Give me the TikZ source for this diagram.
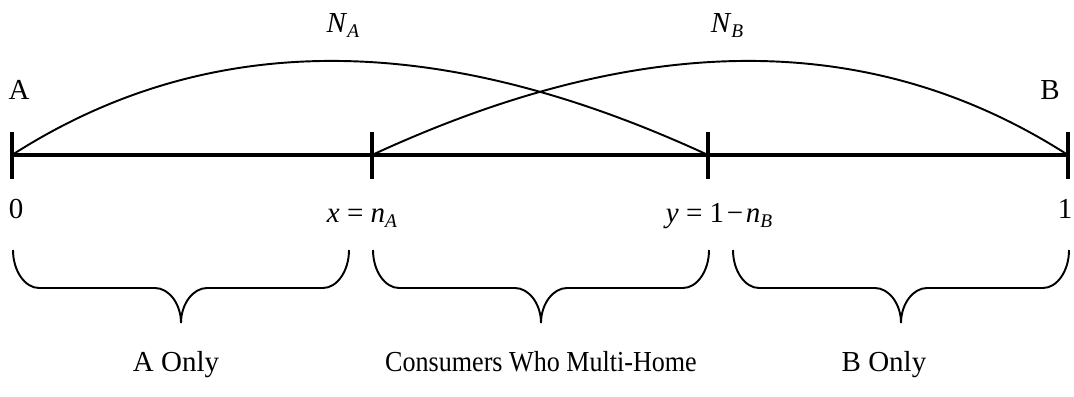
\documentclass[tikz,border=0pt]{standalone}
\usepackage{fontspec}
\setmainfont{Liberation Serif}
\usepackage{tikz}
\usetikzlibrary{positioning}
\tikzset{
  axisline/.style={line width=2.3pt},
  tickmark/.style={line width=2.6pt},
  share/.style={line width=1.1pt},
  bracket/.style={line width=1.1pt},
  lbl/.style={anchor=base, inner sep=0pt},
}
\newcommand{\sub}[1]{\raisebox{-3.2pt}{\fontsize{11}{11}\selectfont\textit{#1}}}

\begin{document}
\begin{tikzpicture}[x=0.02cm, y=-0.02cm, font=\fontsize{16.5}{19}\selectfont]
    \useasboundingbox (0,0) rectangle (1074,396);
    \coordinate (p0) at (12,155);
    \coordinate (p1) at (372,155);
    \coordinate (p2) at (708,155);
    \coordinate (p3) at (1068,155);
    \draw[axisline] (p0) -- (p3);
    \foreach \p in {p0,p1,p2,p3}
        \draw[tickmark] ([yshift=-0.48cm]\p) -- ([yshift=0.46cm]\p);
    \draw[share] (p0) .. controls (230,15) and (470,45) .. (p2);
    \draw[share] (p1) .. controls (610,45) and (850,15) .. (p3);
    \node[lbl] (na) at (343,32) {\textit{N}\sub{A}};
    \node[lbl] (nb) at (727,32) {\textit{N}\sub{B}};
    \node[lbl] (a) at (19,99) {A};
    \node[lbl] (b) at (1050,99) {B};
    \node[lbl] (zero) at (16,218) {0};
    \node[lbl] (xa) at (362,222) {\textit{x} = \textit{n}\sub{A}};
    \node[lbl] (yb) at (719,222) {\textit{y} = 1\kern1.5pt−\kern1.5pt\textit{n}\sub{B}};
    \node[lbl] (one) at (1065,218) {1};
    \foreach \l/\r/\m in {13/349/181, 373/709/541, 733/1069/901}
        \draw[bracket] (\l,250) .. controls (\l,271) and (\l+12,288) .. (\l+26,288) -- (\m-26,288)
            .. controls (\m-12,288) and (\m,304) .. (\m,323)
            .. controls (\m,304) and (\m+12,288) .. (\m+26,288) -- (\r-26,288)
            .. controls (\r-12,288) and (\r,271) .. (\r,250);
    \node[lbl] (aonly) at (176,371) {A Only};
    \node[lbl] (multi) at (541,371) {\scalebox{0.9}[1]{Consumers Who Multi-Home}};
    \node[lbl] (bonly) at (884,371) {B Only};
\end{tikzpicture}
\end{document}
